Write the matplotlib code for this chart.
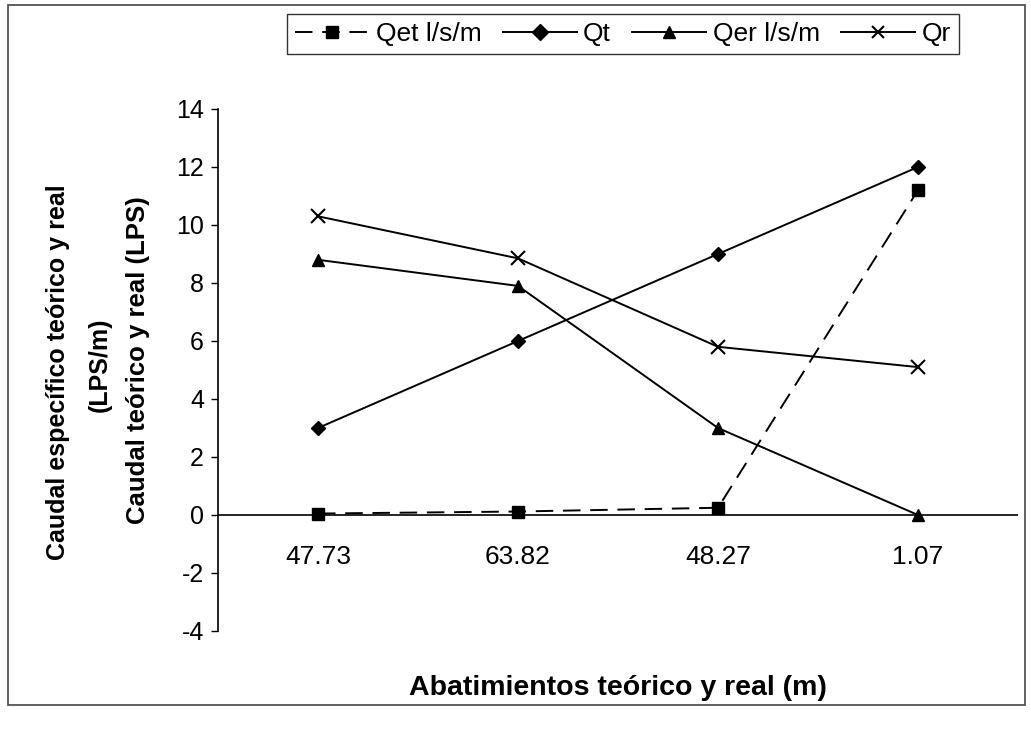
import matplotlib
matplotlib.use("Agg")
import matplotlib.pyplot as plt
from matplotlib.patches import Rectangle

categories = ["47.73", "63.82", "48.27", "1.07"]
qet = [0.05, 0.12, 0.25, 11.2]
qt = [3, 6, 9, 12]
qer = [8.8, 7.9, 3.0, 0.0]
qr = [10.3, 8.85, 5.8, 5.1]
yticks = [-4, -2, 0, 2, 4, 6, 8, 10, 12, 14]

plt.rcParams['font.family'] = ['Liberation Sans', 'DejaVu Sans']

W, H = 1031, 731
fig = plt.figure(figsize=(W / 100, H / 100), dpi=100)
ax = fig.add_axes([218 / W, 1 - 631 / H, 800 / W, 522 / H])

x = list(range(len(categories)))
l1, = ax.plot(x, qet, color='black', lw=1.4, ls=(0, (9, 5)), marker='s', ms=8, label='Qet l/s/m')
l2, = ax.plot(x, qt, color='black', lw=1.4, marker='D', ms=7, label='Qt')
l3, = ax.plot(x, qer, color='black', lw=1.4, marker='^', ms=9, label='Qer l/s/m')
l4, = ax.plot(x, qr, color='black', lw=1.4, marker='x', ms=10, mew=1.5, label='Qr')

ax.set_xlim(-0.5, len(categories) - 0.5)
ax.set_ylim(-4, 14)
ax.set_yticks(yticks)
ax.set_yticklabels([str(v) for v in yticks], fontsize=18)

for s in ['top', 'right', 'bottom']:
    ax.spines[s].set_visible(False)
ax.spines['left'].set_linewidth(1.2)
ax.axhline(0, color='black', lw=1.2)
ax.tick_params(axis='y', direction='out', length=5, width=1, pad=5)
ax.set_xticks([])
for xi, lab in zip(x, categories):
    ax.text(xi, -1.45, lab, ha='center', va='center', fontsize=19)

fig.text(618 / W, 1 - 688 / H, 'Abatimientos teórico y real (m)', ha='center', va='center',
         fontsize=20.5, fontweight='bold')
fig.text(58 / W, 1 - 372 / H, 'Caudal específico teórico y real', ha='center', va='center',
         rotation=90, fontsize=18, fontweight='bold')
fig.text(100 / W, 1 - 365 / H, '(LPS/m)', ha='center', va='center',
         rotation=90, fontsize=18, fontweight='bold')
fig.text(138 / W, 1 - 360 / H, 'Caudal teórico y real (LPS)', ha='center', va='center',
         rotation=90, fontsize=18.5, fontweight='bold')

leg = fig.legend(handles=[l1, l2, l3, l4], loc='center', bbox_to_anchor=(623 / W, 1 - 34 / H),
                 ncol=4, frameon=True, fancybox=False, edgecolor='black', fontsize=19,
                 handlelength=2.8, handletextpad=0.25, columnspacing=0.8, borderpad=0.3)
leg.get_frame().set_linewidth(1.0)
for h in leg.legend_handles:
    h.set_markersize(8)

fig.patches.append(Rectangle((8 / W, 1 - 705 / H), 1017 / W, 700 / H, transform=fig.transFigure,
                             fill=False, edgecolor='#444444', lw=1.2))

fig.savefig('out.png', dpi=100)
